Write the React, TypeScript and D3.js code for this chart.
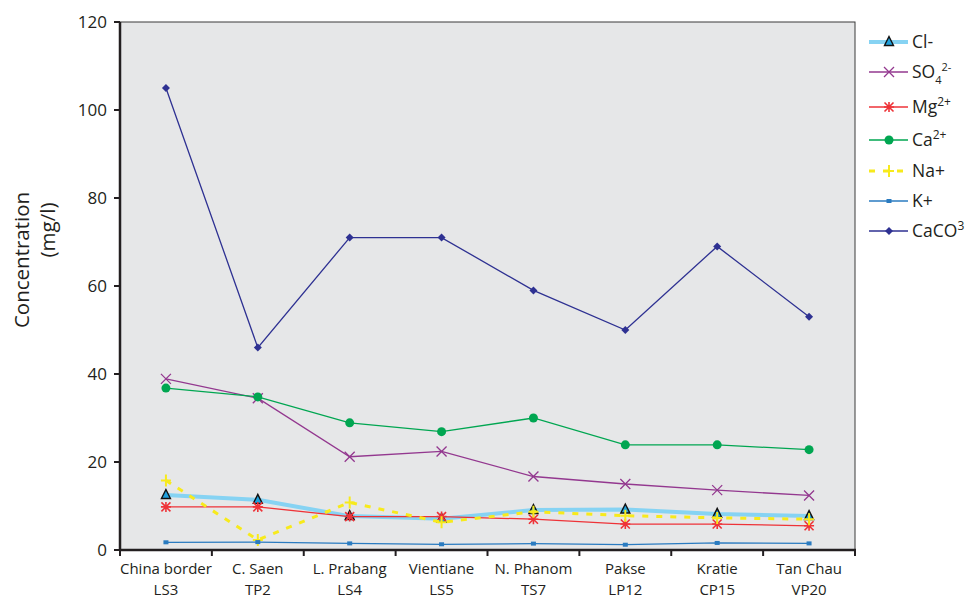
import React from "react";
import * as d3 from "d3";

const sites = ["China border", "C. Saen", "L. Prabang", "Vientiane", "N. Phanom", "Pakse", "Kratie", "Tan Chau"];
const codes = ["LS3", "TP2", "LS4", "LS5", "TS7", "LP12", "CP15", "VP20"];
const yTicks = [0, 20, 40, 60, 80, 100, 120];

const cl = [12.5, 11.4, 7.7, 7.1, 9.1, 9.2, 8.2, 7.7];
const so4 = [38.9, 34.5, 21.2, 22.4, 16.7, 15.0, 13.6, 12.4];
const mg = [9.8, 9.8, 7.6, 7.6, 7.0, 5.9, 5.9, 5.5];
const ca = [36.8, 34.8, 28.9, 26.9, 30.0, 23.9, 23.9, 22.8];
const na = [15.8, 2.3, 10.8, 6.3, 8.7, 7.8, 7.3, 7.0];
const k = [1.75, 1.8, 1.5, 1.3, 1.45, 1.2, 1.6, 1.5];
const caco3 = [105, 46, 71, 71, 59, 50, 69, 53];

type Marker = "triangle" | "x" | "star" | "circle" | "plus" | "square" | "diamond";
type Series = { key: string; values: number[]; color: string; width: number; dash?: string; marker: Marker };

const series: Series[] = [
  { key: "cl", values: cl, color: "#86d3f3", width: 4, marker: "triangle" },
  { key: "so4", values: so4, color: "#93388f", width: 1.3, marker: "x" },
  { key: "mg", values: mg, color: "#ee3338", width: 1.3, marker: "star" },
  { key: "ca", values: ca, color: "#00a651", width: 1.3, marker: "circle" },
  { key: "na", values: na, color: "#f7ea1c", width: 3, dash: "6,8", marker: "plus" },
  { key: "k", values: k, color: "#2a7bc0", width: 1.3, marker: "square" },
  { key: "caco3", values: caco3, color: "#2e3192", width: 1.3, marker: "diamond" },
];

const W = 971, H = 601;
const left = 120, right = 855, top = 22, bottom = 550;

function MarkerShape({ m, x, y, color }: { m: Marker; x: number; y: number; color: string }) {
  switch (m) {
    case "triangle":
      return <path d={`M${x},${y - 5.5}L${x + 4.5},${y + 3.5}L${x - 4.5},${y + 3.5}Z`} fill="#1fa0dc" stroke="#111" strokeWidth={1.4} />;
    case "x":
      return <path d={`M${x - 5},${y - 5}L${x + 5},${y + 5}M${x - 5},${y + 5}L${x + 5},${y - 5}`} stroke={color} strokeWidth={1.3} />;
    case "star":
      return <path d={`M${x - 4.5},${y - 4.5}L${x + 4.5},${y + 4.5}M${x - 4.5},${y + 4.5}L${x + 4.5},${y - 4.5}M${x},${y - 5}L${x},${y + 5}M${x - 5},${y}L${x + 5},${y}`} stroke={color} strokeWidth={1.6} />;
    case "circle":
      return <circle cx={x} cy={y} r={4.5} fill={color} />;
    case "plus":
      return <path d={`M${x - 5},${y}L${x + 5},${y}M${x},${y - 6}L${x},${y + 6}`} stroke={color} strokeWidth={2} />;
    case "square":
      return <rect x={x - 2.5} y={y - 2} width={5} height={4} fill={color} />;
    case "diamond":
      return <path d={`M${x},${y - 4}L${x + 4},${y}L${x},${y + 4}L${x - 4},${y}Z`} fill={color} />;
  }
}

const legendItems: { key: string; y: number; label: React.ReactNode }[] = [
  { key: "cl", y: 42, label: <>Cl-</> },
  { key: "so4", y: 72, label: <>SO<tspan fontSize={11} dy={6}>4</tspan><tspan fontSize={11} dy={-13}>2-</tspan></> },
  { key: "mg", y: 107, label: <>Mg<tspan fontSize={12} dy={-7}>2+</tspan></> },
  { key: "ca", y: 140, label: <>Ca<tspan fontSize={12} dy={-7}>2+</tspan></> },
  { key: "na", y: 171, label: <>Na+</> },
  { key: "k", y: 201, label: <>K+</> },
  { key: "caco3", y: 231, label: <>CaCO<tspan fontSize={12} dy={-7}>3</tspan></> },
];

export default function App() {
  const x = d3.scaleBand<string>().domain(codes).range([left, right]);
  const y = d3.scaleLinear().domain([0, 120]).range([bottom, top]);
  const cx = (i: number) => (x(codes[i]) ?? 0) + x.bandwidth() / 2;
  const line = d3.line<number>().x((_, i) => cx(i)).y((v) => y(v));
  const font = "'Open Sans', 'DejaVu Sans', sans-serif";
  const boundaries = codes.map((c) => x(c) ?? 0).concat([right]);

  return (
    <div style={{ position: "fixed", left: 0, top: 0 }}>
      <svg width={W} height={H} style={{ display: "block", fontFamily: font }}>
        <rect x={0} y={0} width={W} height={H} fill="#fff" />
        <rect x={left} y={top} width={right - left} height={bottom - top} fill="#e6e7e8" stroke="#3a3a3a" strokeWidth={1} />
        {series.map((s) => (
          <g key={s.key}>
            <path d={line(s.values) ?? ""} fill="none" stroke={s.color} strokeWidth={s.width} strokeDasharray={s.dash} />
            {s.values.map((v, i) => (
              <MarkerShape key={i} m={s.marker} x={cx(i)} y={y(v)} color={s.color} />
            ))}
          </g>
        ))}
        <line x1={left} x2={left} y1={top} y2={bottom + 1} stroke="#231f20" strokeWidth={2.5} />
        <line x1={left - 1} x2={right + 1} y1={bottom} y2={bottom} stroke="#231f20" strokeWidth={2.5} />
        {yTicks.map((t) => (
          <g key={t}>
            <line x1={left - 6} x2={left} y1={y(t)} y2={y(t)} stroke="#231f20" strokeWidth={2} />
            <text x={107} y={y(t)} dy="0.35em" textAnchor="end" fontSize={17} fill="#231f20">{t}</text>
          </g>
        ))}
        {boundaries.map((b, i) => (
          <line key={i} x1={b} x2={b} y1={bottom} y2={bottom + 6} stroke="#231f20" strokeWidth={2} />
        ))}
        {codes.map((c, i) => (
          <g key={c}>
            <text x={cx(i)} y={574} textAnchor="middle" fontSize={15} fill="#231f20">{sites[i]}</text>
            <text x={cx(i)} y={595} textAnchor="middle" fontSize={15} fill="#231f20">{c}</text>
          </g>
        ))}
        <text transform="translate(29,260) rotate(-90)" textAnchor="middle" fontSize={20.5} fill="#231f20">Concentration</text>
        <text transform="translate(55,230) rotate(-90)" textAnchor="middle" fontSize={20.5} fill="#231f20">(mg/l)</text>
        {legendItems.map((it) => {
          const s = series.find((q) => q.key === it.key)!;
          return (
            <g key={it.key}>
              <line x1={869} x2={908} y1={it.y} y2={it.y} stroke={s.color} strokeWidth={s.width} strokeDasharray={s.dash ? "6,8" : undefined} />
              <MarkerShape m={s.marker} x={889} y={it.y} color={s.color} />
              <text x={912} y={it.y} dy="0.35em" fontSize={17.5} fill="#231f20">{it.label}</text>
            </g>
          );
        })}
      </svg>
    </div>
  );
}
